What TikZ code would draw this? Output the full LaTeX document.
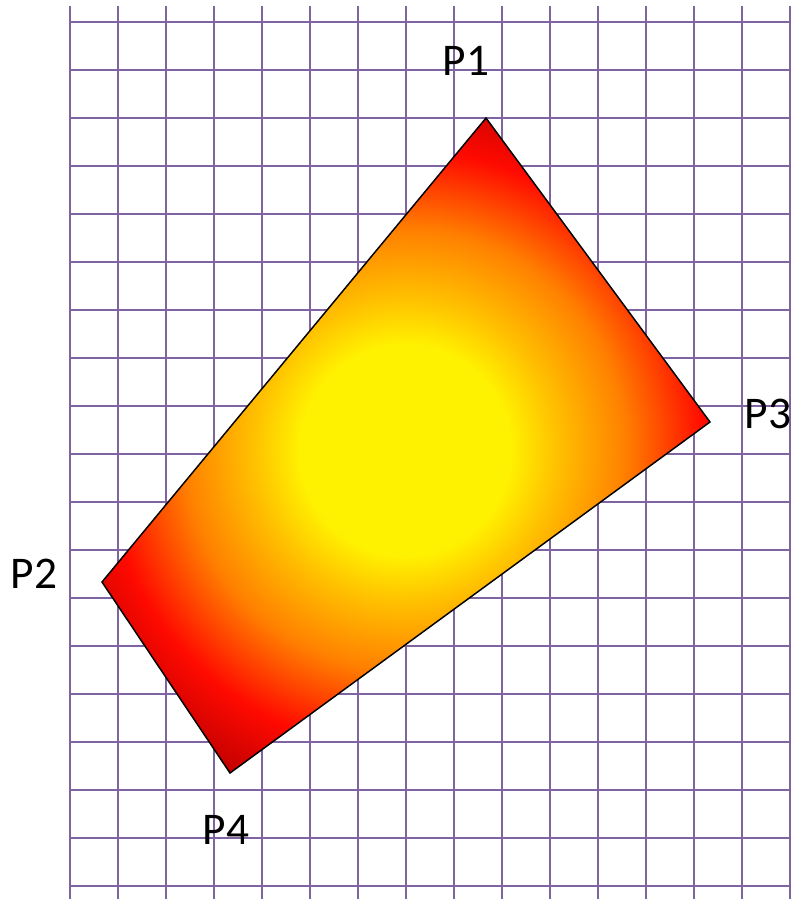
\documentclass[tikz,border=0pt]{standalone}
\usepackage{fontspec}
\setmainfont{Carlito}
\usepackage{tikz}
\usetikzlibrary{positioning}
\definecolor{gridpurple}{RGB}{128,100,162}
\definecolor{sunyellow}{RGB}{255,242,0}
\definecolor{amber}{RGB}{255,194,0}
\definecolor{hotorange}{RGB}{255,128,0}
\definecolor{hotred}{RGB}{255,10,0}
\definecolor{deepred}{RGB}{192,0,0}
\pgfdeclareradialshading{glow}{\pgfpoint{0bp}{0bp}}{%
  color(0bp)=(sunyellow); color(6.9bp)=(sunyellow); color(9.9bp)=(amber);
  color(14.5bp)=(hotorange); color(19.7bp)=(hotred); color(24.3bp)=(deepred);
  color(25bp)=(deepred)}

\begin{document}
\begin{tikzpicture}[
  x=0.75pt, y=-0.75pt,
  gridline/.style={draw=gridpurple, line width=1.1pt},
  edge/.style={draw=black, line width=1.1pt, line join=miter},
  plabel/.style={font=\fontsize{34}{40}\selectfont, inner sep=0pt}
]
\useasboundingbox (0,0) rectangle (792,899);

%% Grid
\foreach \i in {0,...,15}
  \draw[gridline] (70+48*\i,6) -- (70+48*\i,899);
\foreach \j in {0,...,18}
  \draw[gridline] (70,22+48*\j) -- (790,22+48*\j);

%% Corners
\coordinate (p1) at (486,118);
\coordinate (p2) at (102,582);
\coordinate (p3) at (710,422);
\coordinate (p4) at (230,773);
\coordinate (hot) at (405,450);

%% Shaded quadrilateral
\begin{scope}
  \clip (p1) -- (p3) -- (p4) -- (p2) -- cycle;
  \shade[shading=glow] (hot) circle (285pt);
\end{scope}
\draw[edge] (p1) -- (p3) -- (p4) -- (p2) -- cycle;

%% Labels
\node[plabel] (l1) at (466,61)  {P1};
\node[plabel] (l2) at (34,574)  {P2};
\node[plabel] (l3) at (768,414) {P3};
\node[plabel] (l4) at (226,830) {P4};

\end{tikzpicture}
\end{document}
